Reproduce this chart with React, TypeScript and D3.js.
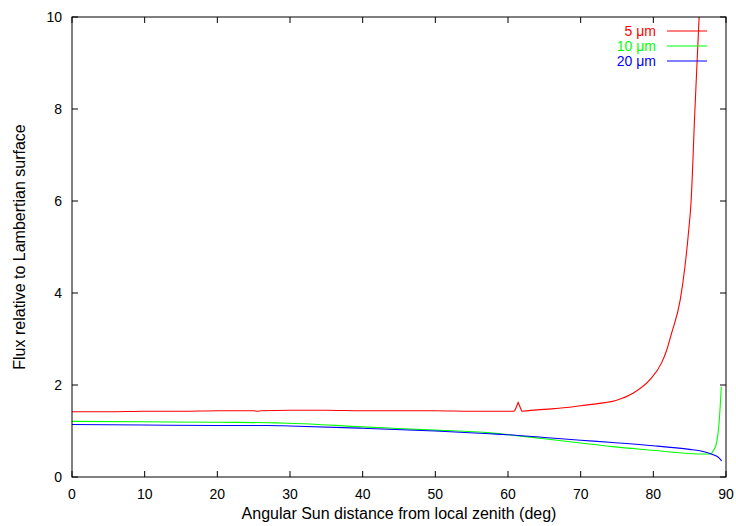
import React from "react";
import * as d3 from "d3";

const xTicks = [0, 10, 20, 30, 40, 50, 60, 70, 80, 90];
const yTicks = [0, 2, 4, 6, 8, 10];

const redDeg = [0, 5, 10, 15, 20, 25, 25.5, 26, 30, 35, 40, 45, 50, 55, 60, 60.9, 61.4, 61.9, 64, 66, 68, 70, 72.65, 74.95, 77.2, 79.5, 81.1, 81.8, 82.5, 83.7, 84.35, 84.8, 85.2, 85.7, 86.3, 86.7];
const redVal = [1.42, 1.42, 1.43, 1.43, 1.44, 1.44, 1.43, 1.44, 1.45, 1.45, 1.44, 1.44, 1.44, 1.43, 1.43, 1.43, 1.62, 1.43, 1.46, 1.48, 1.51, 1.55, 1.6, 1.67, 1.82, 2.11, 2.47, 2.74, 3.12, 3.85, 4.57, 5.25, 6.0, 7.9, 10, 11.5];
// index range of the sharp spike (drawn with straight segments)
const spikeStart = 15;
const spikeEnd = 17;

const greenDeg = [0, 10, 20, 27, 30, 40, 50, 57.5, 60, 65, 70, 74.4, 80, 85, 86.5, 87.8, 88.3, 88.7, 89.0, 89.25, 89.35];
const greenVal = [1.21, 1.2, 1.19, 1.18, 1.17, 1.09, 1.02, 0.96, 0.92, 0.83, 0.74, 0.66, 0.58, 0.51, 0.5, 0.5, 0.58, 0.74, 1.09, 1.67, 1.96];

const blueDeg = [0, 10, 20, 27, 30, 40, 50, 57.5, 60, 65, 70, 74.4, 80, 85, 86.4, 87.8, 88.6, 89.0, 89.4];
const blueVal = [1.14, 1.13, 1.12, 1.12, 1.11, 1.06, 1.0, 0.94, 0.92, 0.86, 0.8, 0.75, 0.68, 0.6, 0.57, 0.51, 0.46, 0.42, 0.35];

const seriesNames = ["5 μm", "10 μm", "20 μm"];
const seriesColors = ["#ff0000", "#00ff00", "#0000ff"];

export default function App() {
  const W = 736, H = 526;
  const left = 72, right = 726, top = 17, bottom = 477;
  const x = d3.scaleLinear().domain([0, 90]).range([left, right]);
  const y = d3.scaleLinear().domain([0, 10]).range([bottom, top]);
  const smooth = d3.line<[number, number]>().x(d => x(d[0])).y(d => y(d[1])).curve(d3.curveMonotoneX);
  const straight = d3.line<[number, number]>().x(d => x(d[0])).y(d => y(d[1]));

  const red = redDeg.map((d, i) => [d, redVal[i]] as [number, number]);
  const green = greenDeg.map((d, i) => [d, greenVal[i]] as [number, number]);
  const blue = blueDeg.map((d, i) => [d, blueVal[i]] as [number, number]);

  const redPaths = [
    smooth(red.slice(0, spikeStart + 1)),
    straight(red.slice(spikeStart, spikeEnd + 1)),
    smooth(red.slice(spikeEnd)),
  ];

  const font = "Liberation Sans, Arial, Helvetica, sans-serif";
  const tl = 6;
  return (
    <svg width={W} height={H} style={{ position: "absolute", left: 0, top: 0, background: "#fff" }} fontFamily={font}>
      <defs>
        <clipPath id="plotclip">
          <rect x={left} y={top} width={right - left} height={bottom - top} />
        </clipPath>
      </defs>
      <rect x={0} y={0} width={W} height={H} fill="#fff" />
      <g clipPath="url(#plotclip)" fill="none" strokeWidth={1.1} strokeLinejoin="miter">
        {redPaths.map((p, i) => (
          <path key={"r" + i} d={p || ""} stroke={seriesColors[0]} />
        ))}
        <path d={smooth(green) || ""} stroke={seriesColors[1]} />
        <path d={smooth(blue) || ""} stroke={seriesColors[2]} />
      </g>
      {xTicks.map(t => (
        <g key={"x" + t}>
          <line x1={x(t)} x2={x(t)} y1={bottom} y2={bottom - tl} stroke="#000" />
          <line x1={x(t)} x2={x(t)} y1={top} y2={top + tl} stroke="#000" />
          <text x={x(t)} y={499} fontSize={14} textAnchor="middle">{t}</text>
        </g>
      ))}
      {yTicks.map(t => (
        <g key={"y" + t}>
          <line x1={left} x2={left + tl} y1={y(t)} y2={y(t)} stroke="#000" />
          <line x1={right} x2={right - tl} y1={y(t)} y2={y(t)} stroke="#000" />
          <text x={62} y={y(t) + 5} fontSize={14} textAnchor="end">{t}</text>
        </g>
      ))}
      <rect x={left} y={top} width={right - left} height={bottom - top} fill="none" stroke="#000" strokeWidth={1} />
      {seriesNames.map((n, i) => (
        <g key={n}>
          <text x={656} y={36 + i * 15} fontSize={14} textAnchor="end" fill={seriesColors[i]}>{n}</text>
          <line x1={667} x2={707} y1={31 + i * 15} y2={31 + i * 15} stroke={seriesColors[i]} strokeWidth={1.1} />
        </g>
      ))}
      <text x={(left + right) / 2} y={519} fontSize={16} textAnchor="middle">Angular Sun distance from local zenith (deg)</text>
      <text transform={`translate(25,${(top + bottom) / 2}) rotate(-90)`} fontSize={16} textAnchor="middle">Flux relative to Lambertian surface</text>
    </svg>
  );
}
